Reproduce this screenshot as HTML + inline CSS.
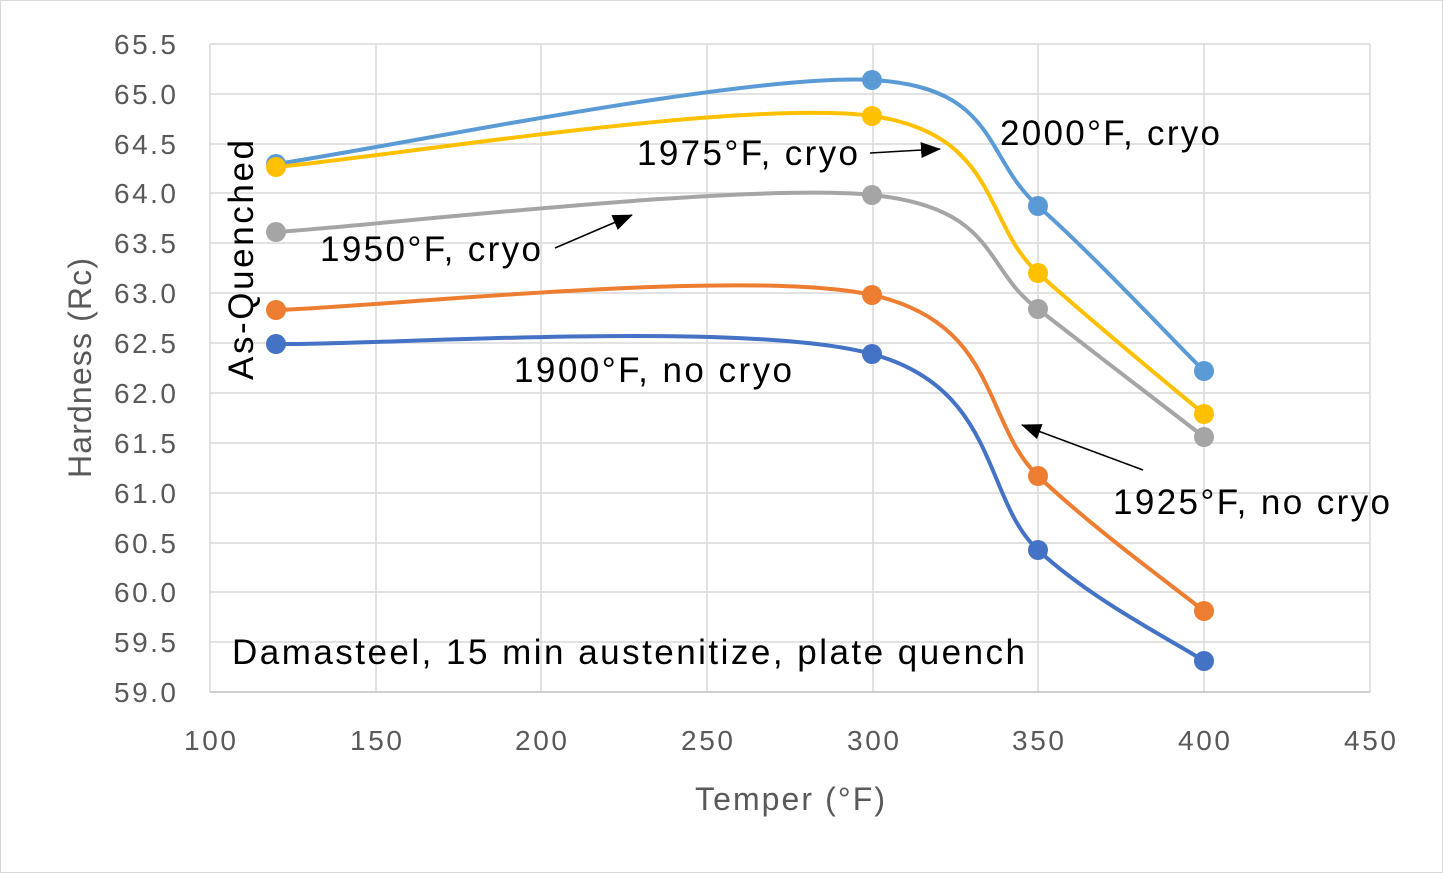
<!DOCTYPE html>
<html><head><meta charset="utf-8"><style>
html,body{margin:0;padding:0;background:#fff}
svg{display:block;font-family:"Liberation Sans",sans-serif}
</style></head><body>
<svg width="1443" height="873" viewBox="0 0 1443 873" xmlns="http://www.w3.org/2000/svg">
<defs><marker id="ah" markerWidth="20" markerHeight="16" refX="19" refY="8" orient="auto" markerUnits="userSpaceOnUse" viewBox="0 0 20 16"><path d="M0,0 L20,8 L0,16 z" fill="#000"/></marker></defs>
<rect x="0.5" y="0.5" width="1442" height="872" fill="#fff" stroke="#d9d9d9"/>
<g stroke="#d9d9d9" stroke-width="1.5">
<line x1="210" y1="44" x2="1370" y2="44"/><line x1="210" y1="94" x2="1370" y2="94"/><line x1="210" y1="144" x2="1370" y2="144"/><line x1="210" y1="193" x2="1370" y2="193"/><line x1="210" y1="243" x2="1370" y2="243"/><line x1="210" y1="293" x2="1370" y2="293"/><line x1="210" y1="343" x2="1370" y2="343"/><line x1="210" y1="393" x2="1370" y2="393"/><line x1="210" y1="443" x2="1370" y2="443"/><line x1="210" y1="493" x2="1370" y2="493"/><line x1="210" y1="543" x2="1370" y2="543"/><line x1="210" y1="592" x2="1370" y2="592"/><line x1="210" y1="642" x2="1370" y2="642"/>
<line x1="210" y1="44" x2="210" y2="692"/><line x1="376" y1="44" x2="376" y2="692"/><line x1="541" y1="44" x2="541" y2="692"/><line x1="707" y1="44" x2="707" y2="692"/><line x1="873" y1="44" x2="873" y2="692"/><line x1="1038" y1="44" x2="1038" y2="692"/><line x1="1204" y1="44" x2="1204" y2="692"/><line x1="1370" y1="44" x2="1370" y2="692"/>
</g>
<line x1="210" y1="692" x2="1370" y2="692" stroke="#bfbfbf" stroke-width="1.5"/>
<g fill="#595959" font-size="28" text-anchor="end" lengthAdjust="spacingAndGlyphs">
<text x="176" y="54" textLength="62">65.5</text><text x="176" y="104" textLength="62">65.0</text><text x="176" y="154" textLength="62">64.5</text><text x="176" y="203" textLength="62">64.0</text><text x="176" y="253" textLength="62">63.5</text><text x="176" y="303" textLength="62">63.0</text><text x="176" y="353" textLength="62">62.5</text><text x="176" y="403" textLength="62">62.0</text><text x="176" y="453" textLength="62">61.5</text><text x="176" y="503" textLength="62">61.0</text><text x="176" y="553" textLength="62">60.5</text><text x="176" y="602" textLength="62">60.0</text><text x="176" y="652" textLength="62">59.5</text><text x="176" y="702" textLength="62">59.0</text>
</g>
<g fill="#595959" font-size="28" text-anchor="middle">
<text x="210" y="750" textLength="52">100</text><text x="376" y="750" textLength="52">150</text><text x="541" y="750" textLength="52">200</text><text x="707" y="750" textLength="52">250</text><text x="873" y="750" textLength="52">300</text><text x="1038" y="750" textLength="52">350</text><text x="1204" y="750" textLength="52">400</text><text x="1370" y="750" textLength="52">450</text>
<text x="790" y="810" font-size="32" textLength="190">Temper (°F)</text>
<text transform="translate(91,368) rotate(-90)" font-size="32" textLength="220">Hardness (Rc)</text>
</g>
<g fill="none" stroke-width="4">
<path stroke="#5B9BD5" d="M276,164 C375,150 745,73 872,80 C999,87 983,157.5 1038,206 C1093,254.5 1176,343.5 1204,371"/>
<path stroke="#FFC000" d="M276,167 C375,158.5 745,98.3 872,116 C999,133.7 983,223.3 1038,273 C1093,322.7 1176,390.5 1204,414"/>
<path stroke="#A5A5A5" d="M276,232 C375,225.8 745,182.2 872,195 C999,207.8 983,269.7 1038,309 C1093,351.7 1176,415.7 1204,437"/>
<path stroke="#ED7D31" d="M276,310 C375,307.5 745,267.3 872,295 C999,322.7 983,423.3 1038,476 C1093,528.3 1176,588.5 1204,611"/>
<path stroke="#4472C4" d="M276,344 C375,345.7 745,319.3 872,354 C999,388.3 983,499.5 1038,550 C1093,601.2 1176,642.5 1204,661"/>
</g>
<g fill="#5B9BD5"><circle cx="276" cy="164" r="10"/><circle cx="872" cy="80" r="10"/><circle cx="1038" cy="206" r="10"/><circle cx="1204" cy="371" r="10"/></g>
<g fill="#FFC000"><circle cx="276" cy="167" r="10"/><circle cx="872" cy="116" r="10"/><circle cx="1038" cy="273" r="10"/><circle cx="1204" cy="414" r="10"/></g>
<g fill="#A5A5A5"><circle cx="276" cy="232" r="10"/><circle cx="872" cy="195" r="10"/><circle cx="1038" cy="309" r="10"/><circle cx="1204" cy="437" r="10"/></g>
<g fill="#ED7D31"><circle cx="276" cy="310" r="10"/><circle cx="872" cy="295" r="10"/><circle cx="1038" cy="476" r="10"/><circle cx="1204" cy="611" r="10"/></g>
<g fill="#4472C4"><circle cx="276" cy="344" r="10"/><circle cx="872" cy="354" r="10"/><circle cx="1038" cy="550" r="10"/><circle cx="1204" cy="661" r="10"/></g>
<g fill="#000" font-size="35">
<text x="1000" y="145" textLength="220">2000°F, cryo</text>
<text x="637" y="165" textLength="221">1975°F, cryo</text>
<text x="320" y="261" textLength="221">1950°F, cryo</text>
<text x="514" y="382" textLength="278">1900°F, no cryo</text>
<text x="1113" y="514" textLength="277">1925°F, no cryo</text>
<text x="232" y="664" textLength="793">Damasteel, 15 min austenitize, plate quench</text>
<text transform="translate(253,380) rotate(-90)" textLength="240">As-Quenched</text>
</g>
<g stroke="#000" stroke-width="1.5" fill="none" marker-end="url(#ah)">
<line x1="870" y1="153" x2="940" y2="149"/>
<line x1="555" y1="248" x2="632" y2="215"/>
<line x1="1143" y1="470" x2="1022" y2="425"/>
</g>
</svg>
</body></html>
